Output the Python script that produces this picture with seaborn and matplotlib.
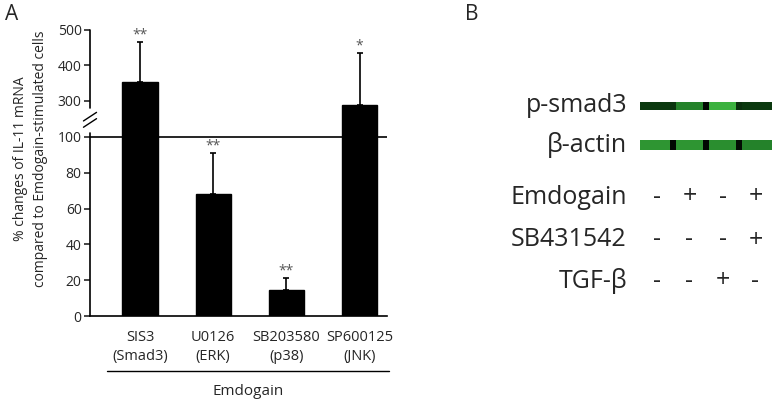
import numpy as np
import pandas as pd
import seaborn as sns
import matplotlib.pyplot as plt
from matplotlib.colors import LinearSegmentedColormap
from matplotlib import transforms

# panel A data (% of Emdogain-stimulated cells)
inhibitors = ["SIS3\n(Smad3)", "U0126\n(ERK)", "SB203580\n(p38)", "SP600125\n(JNK)"]
pct_change = [353, 68, 14.5, 275]
pct_err = [113, 23, 6.5, 160]
stars = ["**", "**", "**", "*"]
y_ticks = [0, 20, 40, 60, 80, 100, 300, 400, 500]

# panel B data
lanes = [0, 1, 2, 3]
emdogain = ["-", "+", "-", "+"]
sb431542 = ["-", "-", "-", "+"]
tgfb = ["-", "-", "+", "-"]
# band brightness: lane, gap, lane, gap, lane, gap, lane
psmad3_band = [0.30, 0.27, 0.62, 0.04, 0.78, 0.25, 0.30]
actin_band = [0.68, 0.04, 0.68, 0.04, 0.66, 0.06, 0.62]

sns.set_style("white")
plt.rcParams['font.family'] = ['Open Sans', 'DejaVu Sans']

fig = plt.figure(figsize=(7.75, 4.01), dpi=100)
W, H = 775, 401
ax = fig.add_axes([90 / W, (H - 316) / H, 297 / W, 286 / H])


# broken y axis: 0-100 linear, 100-300 squeezed, 300-500 compressed
def fwd(v):
    v = np.asarray(v, dtype=float)
    return np.where(v <= 100, v,
                    np.where(v <= 300, 100 + (v - 100) * 0.1005,
                             120.1 + (v - 300) * 0.198))


def inv(u):
    u = np.asarray(u, dtype=float)
    return np.where(u <= 100, u,
                    np.where(u <= 120.1, 100 + (u - 100) / 0.1005,
                             300 + (u - 120.1) / 0.198))


df = pd.DataFrame({"inh": inhibitors, "pct": pct_change, "err": pct_err})
sns.barplot(data=df, x="inh", y="pct", color="black", width=0.48,
            saturation=1, edgecolor="black", ax=ax, errorbar=None)
ax.set_yscale("function", functions=(fwd, inv))
ax.errorbar(range(len(inhibitors)), pct_change,
            yerr=[np.zeros(len(pct_err)), pct_err],
            fmt="none", ecolor="black", elinewidth=1.2, capsize=2.5, capthick=1.2)
for i, (v, e, s) in enumerate(zip(pct_change, pct_err, stars)):
    ax.annotate(s, (i, v + e), xytext=(0, 0), textcoords="offset points",
                ha="center", va="bottom", fontsize=10, color="#555555")

ax.axhline(100, color="black", lw=1.2)
ax.set_ylim(0, 500)
ax.set_xlim(-0.683, 3.375)
ax.set_yticks(y_ticks)
ax.set_yticklabels([str(t) for t in y_ticks])
ax.tick_params(axis="y", direction="out", length=4, width=1.2, labelsize=10, pad=2, left=True)
ax.tick_params(axis="x", length=0, labelsize=10.5, pad=10)
for lb in ax.get_xticklabels():
    lb.set_linespacing(1.35)
ax.set_xlabel("")
ax.set_ylabel("% changes of IL-11 mRNA\ncompared to Emdogain-stimulated cells",
              fontsize=10, linespacing=1.45)
ax.yaxis.set_label_coords(-0.14, 0.55)
for sp in ["top", "right", "left"]:
    ax.spines[sp].set_visible(False)
ax.spines["bottom"].set_linewidth(1.2)
ax.spines["bottom"].set_color("black")
# left spine drawn in two pieces around the break
ax.plot([0, 0], [0, 0.64], transform=ax.transAxes, color="black", lw=1.2, clip_on=False)
ax.plot([0, 0], [0.728, 1], transform=ax.transAxes, color="black", lw=1.2, clip_on=False)
for dy in [0.0, 0.022]:
    ax.plot([-0.022, 0.022], [0.66 + dy, 0.69 + dy], transform=ax.transAxes,
            color="black", lw=1.0, clip_on=False)
# bracket under the inhibitors
ax.plot([0.057, 1.007], [-0.192, -0.192], transform=ax.transAxes, color="black",
        lw=1.0, clip_on=False)
ax.text(0.532, -0.265, "Emdogain", transform=ax.transAxes, ha="center", va="center",
        fontsize=11)

fig.text(5 / W, 1 - 14 / H, "A", fontsize=15, va="center", ha="left")
fig.text(465 / W, 1 - 14 / H, "B", fontsize=15, va="center", ha="left")

# panel B: blot and treatment table
axb = fig.add_axes([640 / W, (H - 300) / H, 132 / W, 210 / H])
axb.set_xlim(-0.5, 3.5)
axb.set_ylim(300, 90)
axb.axis("off")
blot_cmap = LinearSegmentedColormap.from_list("blot", ["#000000", "#13601a", "#5cf05c"])
gap = 0.16
edges = [-0.5]
for ln in lanes:
    if ln < lanes[-1]:
        edges += [ln + 0.5 - gap / 2, ln + 0.5 + gap / 2]
edges.append(3.5)
axb.pcolormesh(edges, [102, 109.5], np.array([psmad3_band]), cmap=blot_cmap,
               vmin=0, vmax=1, shading="flat")
axb.pcolormesh(edges, [140, 149.5], np.array([actin_band]), cmap=blot_cmap,
               vmin=0, vmax=1, shading="flat")

row_y = [105.5, 144.5, 197, 240, 281]
row_names = ["p-smad3", "\u03b2-actin", "Emdogain", "SB431542", "TGF-\u03b2"]
lbl_tr = transforms.offset_copy(axb.transData, fig=fig, x=-13, y=0, units="dots")
for y, name in zip(row_y, row_names):
    axb.text(-0.5, y, name, transform=lbl_tr, ha="right", va="center", fontsize=18)
for y, signs in zip(row_y[2:], [emdogain, sb431542, tgfb]):
    for ln, s in zip(lanes, signs):
        axb.text(ln, y, s, ha="center", va="center", fontsize=18)

fig.savefig("out.png", dpi=100)
